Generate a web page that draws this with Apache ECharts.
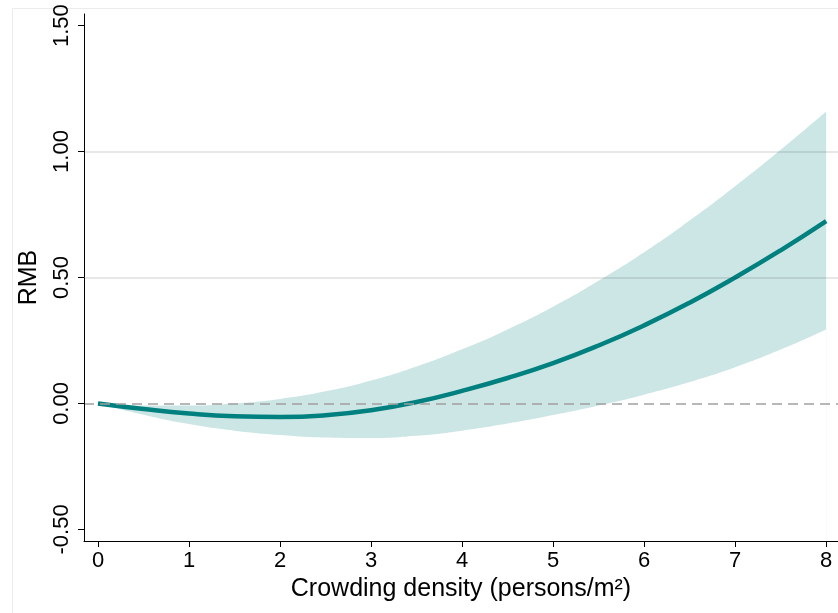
<!DOCTYPE html>
<html>
<head>
<meta charset="utf-8">
<script src="https://cdn.jsdelivr.net/npm/echarts@6/dist/echarts.min.js"></script>
<style>html,body{margin:0;padding:0;background:#fff;}#c{width:838px;height:613px;}</style>
</head>
<body>
<div id="c"></div>
<script>
const xs =    [0, 0.5, 1, 1.5, 2, 2.5, 3, 3.5, 4, 4.5, 5, 5.5, 6, 6.5, 7, 7.5, 8];
const est =   [0, -0.022, -0.040, -0.051, -0.054, -0.047, -0.027, 0.006, 0.050, 0.101, 0.160, 0.230, 0.310, 0.400, 0.500, 0.608, 0.724];
const upper = [0, -0.008, -0.008, 0.0, 0.018, 0.048, 0.091, 0.147, 0.215, 0.294, 0.384, 0.487, 0.600, 0.726, 0.862, 1.007, 1.159];
const lower = [0, -0.045, -0.082, -0.108, -0.125, -0.135, -0.137, -0.128, -0.108, -0.080, -0.046, -0.008, 0.035, 0.085, 0.144, 0.214, 0.294];
const xTicks = [0, 1, 2, 3, 4, 5, 6, 7, 8];
const yTicks = [-0.5, 0, 0.5, 1, 1.5];
const gridValues = [0.5, 1.0];

const FONT = 'Liberation Sans';
const SMOOTH = 0.5;
const chart = echarts.init(document.getElementById('c'), null, {renderer: 'canvas'});
chart.setOption({
  animation: false,
  backgroundColor: '#fff',
  textStyle: {fontFamily: FONT},
  graphic: [{
    type: 'rect', left: 10, top: 6, z: -10,
    shape: {x: 0, y: 0, width: 900, height: 700},
    style: {fill: 'none', stroke: '#ececec', lineWidth: 1}
  }],
  grid: {left: 84, right: 0, top: 14, bottom: 72, containLabel: false},
  xAxis: {
    type: 'value', min: -0.154, max: 8.13, z: 10,
    name: 'Crowding density (persons/m²)',
    nameLocation: 'middle', nameGap: 36,
    nameTextStyle: {fontSize: 25, color: '#000', fontFamily: FONT},
    axisLine: {show: true, onZero: false, lineStyle: {color: '#000', width: 1}},
    axisTick: {show: true, length: 6, customValues: xTicks, lineStyle: {color: '#000'}},
    axisLabel: {customValues: xTicks, fontSize: 22, color: '#000', margin: 9, fontFamily: FONT},
    splitLine: {show: false}
  },
  yAxis: {
    type: 'value', min: -0.546, max: 1.546, z: 10,
    name: 'RMB', nameLocation: 'middle', nameGap: 42, nameRotate: 90,
    nameTextStyle: {fontSize: 25, color: '#000', fontFamily: FONT},
    axisLine: {show: true, onZero: false, lineStyle: {color: '#000', width: 1}},
    axisTick: {show: true, length: 6, customValues: yTicks, lineStyle: {color: '#000'}},
    axisLabel: {customValues: yTicks, rotate: 90, fontSize: 22, color: '#000', margin: 11, fontFamily: FONT,
      formatter: v => v.toFixed(2)},
    splitLine: {show: false}
  },
  series: [
    {
      type: 'line', name: 'upper', z: 1, silent: true,
      data: xs.map((x, i) => [x, upper[i]]),
      showSymbol: false, symbol: 'none', smooth: SMOOTH,
      lineStyle: {opacity: 0},
      areaStyle: {color: '#cce6e5', opacity: 1, origin: 'start'}
    },
    {
      type: 'line', name: 'lower', z: 2, silent: true,
      data: xs.map((x, i) => [x, lower[i]]),
      showSymbol: false, symbol: 'none', smooth: SMOOTH,
      lineStyle: {opacity: 0},
      areaStyle: {color: '#ffffff', opacity: 1, origin: 'start'}
    },
    {
      type: 'line', name: 'grid', data: [], z: 3, silent: true,
      markLine: {symbol: 'none', silent: true, label: {show: false},
        lineStyle: {color: 'rgba(0,0,0,0.13)', width: 1.5, type: 'solid'},
        data: gridValues.map(v => ({yAxis: v}))}
    },
    {
      type: 'line', name: 'zero', data: [], z: 3, silent: true,
      markLine: {symbol: 'none', silent: true, label: {show: false},
        lineStyle: {color: '#a0a0a0', width: 1.5, type: [10, 6]},
        data: [{yAxis: 0}]}
    },
    {
      type: 'line', name: 'est', z: 4,
      data: xs.map((x, i) => [x, est[i]]),
      showSymbol: false, symbol: 'none', smooth: SMOOTH,
      lineStyle: {color: '#00807e', width: 4.5, cap: 'butt'}
    }
  ]
});
</script>
</body>
</html>
